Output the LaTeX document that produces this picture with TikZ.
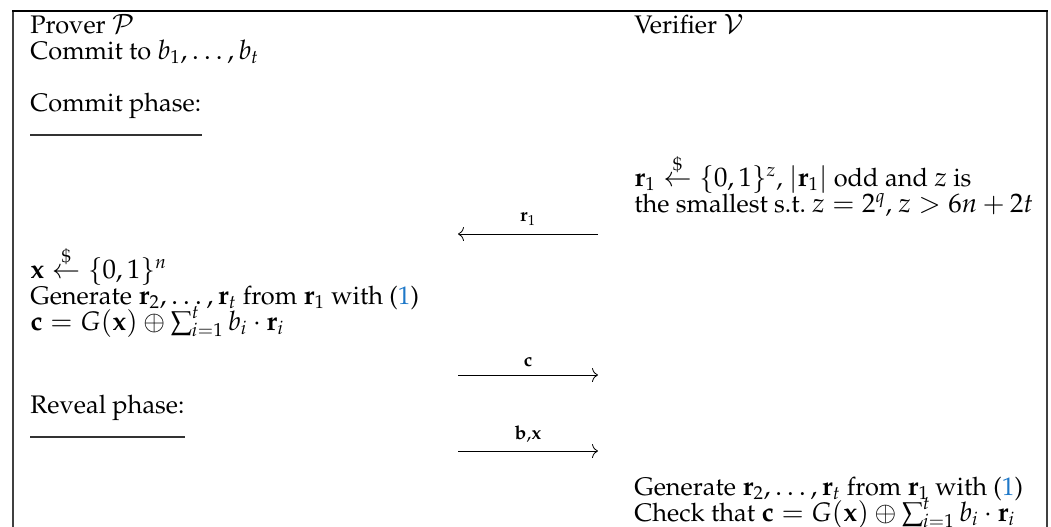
\documentclass[tikz,border=0pt]{standalone}
\usepackage[T1]{fontenc}
\usepackage{amsmath}
\usepackage{mathpazo}
\usetikzlibrary{arrows.meta}
\DeclareMathSizes{12.7}{13.4}{9.4}{6.8}
\definecolor{refblue}{RGB}{30,120,200}
\begin{document}
\begin{tikzpicture}[x=0.5pt,y=-0.5pt,
  txt/.style={anchor=base west,inner sep=0pt,font=\fontsize{12.7}{13}\selectfont},
  lbl/.style={above=4pt,inner sep=0pt,font=\fontsize{9.5}{10}\selectfont},
  msg/.style={line width=0.4pt,-{To[length=3pt,width=7pt]}},
  frametop/.style={line width=1.4pt},
  frameside/.style={line width=0.8pt,black!75},
  uline/.style={line width=0.6pt,black!80}]
\useasboundingbox (0,0) rectangle (1051,526);
% frame
\coordinate (tl) at (13,11);
\coordinate (tr) at (1047,11);
\coordinate (bl) at (13,530);
\coordinate (br) at (1047,530);
\draw[frameside] (tl) -- (bl);
\draw[frameside] (tr) -- (br);
\draw[frametop] ([xshift=-0.4pt]tl) -- ([xshift=0.4pt]tr);
% left column
\node[txt] (prov) at (30,33) {Prover $\mathcal{P}$};
\node[txt] (commit) at (30,59) {Commit to $b_1,\ldots,b_t$};
\node[txt] (cphase) at (30,111) {Commit phase:};
\draw[uline] ([yshift=-12pt]cphase.base west) -- ([yshift=-12pt]cphase.base east);
\node[txt] (xsamp) at (30,278) {$\mathbf{x}\stackrel{\$}{\leftarrow}\{0,1\}^n$};
\node[txt] (gen1) at (30,304) {Generate $\mathbf{r}_2,\ldots,\mathbf{r}_t$ from $\mathbf{r}_1$ with (\textcolor{refblue}{1})};
\node[txt] (cdef) at (30,330) {$\mathbf{c}=G(\mathbf{x})\oplus\sum_{i=1}^{t}b_i\cdot\mathbf{r}_i$};
\node[txt] (rphase) at (30,413) {Reveal phase:};
\draw[uline] ([yshift=-12pt]rphase.base west) -- ([yshift=-12pt]rphase.base east);
% right column
\node[txt] (ver) at (634,33) {Verifier $\mathcal{V}$};
\node[txt] (rsamp) at (634,186) {$\mathbf{r}_1\stackrel{\$}{\leftarrow}\{0,1\}^z$, $|\mathbf{r}_1|$ odd and $z$ is};
\node[txt] (rsmall) at (634,212) {the smallest s.t.\ $z=2^q$, $z>6n+2t$};
\node[txt] (gen2) at (634,495) {Generate $\mathbf{r}_2,\ldots,\mathbf{r}_t$ from $\mathbf{r}_1$ with (\textcolor{refblue}{1})};
\node[txt] (check) at (634,521) {Check that $\mathbf{c}=G(\mathbf{x})\oplus\sum_{i=1}^{t}b_i\cdot\mathbf{r}_i$};
% messages
\coordinate (m1r) at (598,234);
\coordinate (m1l) at (458,234);
\draw[msg] (m1r) -- node[lbl] {$\mathbf{r}_1$} (m1l);
\coordinate (m2l) at (458,375);
\coordinate (m2r) at (598,375);
\draw[msg] (m2l) -- node[lbl] {$\mathbf{c}$} (m2r);
\coordinate (m3l) at (458,451);
\coordinate (m3r) at (598,451);
\draw[msg] (m3l) -- node[lbl] {$\mathbf{b}$,$\mathbf{x}$} (m3r);
\end{tikzpicture}
\end{document}
